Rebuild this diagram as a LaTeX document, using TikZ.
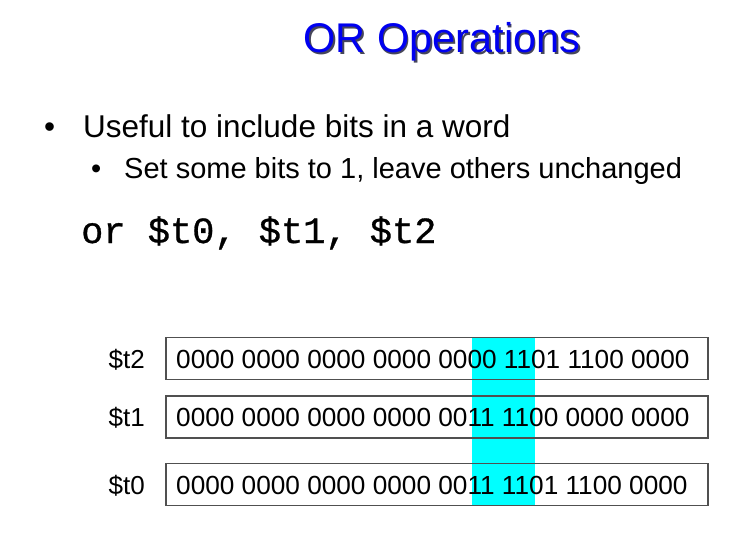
\documentclass[tikz,border=0pt]{standalone}
\usepackage{fontspec}
\setmainfont{Liberation Sans}
\newfontfamily\codefont[RawFeature={embolden=0.8}]{Liberation Mono}
\definecolor{titleblue}{RGB}{0,0,240}
\definecolor{titleshadow}{RGB}{70,70,90}
\definecolor{bandcyan}{RGB}{0,255,255}
\definecolor{boxline}{RGB}{80,80,80}
\begin{document}
\begin{tikzpicture}[x=1pt,y=-1pt,
  titletext/.style={anchor=base,inner sep=0pt,font=\fontsize{41.5}{46}\selectfont},
  bullettext/.style={anchor=base west,inner sep=0pt},
  regbox/.style={draw=boxline,line width=1.2pt,minimum width=542pt,minimum height=42pt,inner sep=0pt},
  bits/.style={anchor=base west,inner sep=0pt,font=\fontsize{26.2}{30}\selectfont},
  reglabel/.style={anchor=base east,inner sep=0pt,font=\fontsize{26}{30}\selectfont}]
  \useasboundingbox[fill=white] (0,0) rectangle (746,533);

  % title with drop shadow
  \node[titletext,text=titleshadow] (titleshadow) at (443.5,54) {OR Operations};
  \node[titletext,text=titleblue] (title) at (442,52.5) {OR Operations};

  % bullet points
  \node[bullettext,font=\fontsize{31.5}{36}\selectfont] (b1dot) at (44,137) {•};
  \node[bullettext,font=\fontsize{31.5}{36}\selectfont] (b1) at (83,137) {Useful to include bits in a word};
  \node[bullettext,font=\fontsize{29}{34}\selectfont] (b2dot) at (91,178) {•};
  \node[bullettext,font=\fontsize{29}{34}\selectfont] (b2) at (124,178) {Set some bits to 1, leave others unchanged};

  % instruction
  \node[bullettext,font=\codefont\fontsize{37}{42}\selectfont] (code) at (81,243) {or \$t0, \$t1, \$t2};

  % highlighted bit columns
  \fill[bandcyan] (472,337) rectangle (535,506);

  % registers
  \node[regbox] (t2box) at (437,358.5) {};
  \node[regbox] (t1box) at (437,417) {};
  \node[regbox] (t0box) at (437,484.5) {};

  \node[reglabel] (t2lab) at (145,368) {\$t2};
  \node[reglabel] (t1lab) at (145,426.5) {\$t1};
  \node[reglabel] (t0lab) at (145,494) {\$t0};

  \node[bits] (t2bits) at (176,368) {0000 0000 0000 0000 0000 1101 1100 0000};
  \node[bits] (t1bits) at (176,426.5) {0000 0000 0000 0000 0011 1100 0000 0000};
  \node[bits] (t0bits) at (176,494) {0000 0000 0000 0000 0011 1101 1100 0000};
\end{tikzpicture}
\end{document}
